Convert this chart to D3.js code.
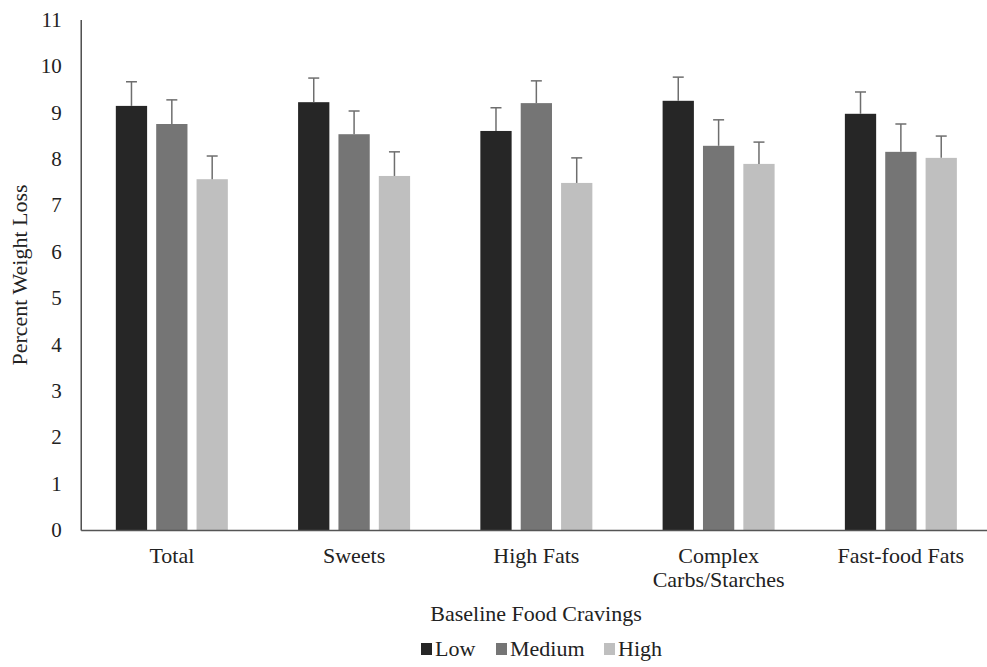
<!DOCTYPE html>
<html><head><meta charset="utf-8">
<script src="https://cdn.jsdelivr.net/npm/d3@7"></script>
<style>body{margin:0;background:#fff}svg{display:block}text{font-family:"Liberation Serif","Times New Roman",serif;fill:#222}</style>
</head><body><svg id="c" width="987" height="667"></svg>
<script>
const categories = ["Total", "Sweets", "High Fats", "Complex\nCarbs/Starches", "Fast-food Fats"];
const seriesNames = ["Low", "Medium", "High"];
const lowValues = [9.14, 9.22, 8.60, 9.25, 8.97];
const mediumValues = [8.75, 8.53, 9.20, 8.28, 8.15];
const highValues = [7.56, 7.63, 7.48, 7.89, 8.02];
const lowErr = [0.52, 0.52, 0.50, 0.51, 0.47];
const mediumErr = [0.52, 0.50, 0.48, 0.56, 0.60];
const highErr = [0.50, 0.52, 0.54, 0.47, 0.47];
const yTicks = [0,1,2,3,4,5,6,7,8,9,10,11];
const colors = ["#262626", "#757575", "#bfbfbf"];

const FONT = '"Liberation Serif","Times New Roman",serif';
const values = [lowValues, mediumValues, highValues];
const errs = [lowErr, mediumErr, highErr];
const svg = d3.select("#c");
const x0 = d3.scaleBand().domain(categories).range([80.7, 992]).paddingInner(0).paddingOuter(0);
const y = d3.scaleLinear().domain([0, 11]).range([530, 19.6]);
const groupW = 112;
const x1 = d3.scaleBand().domain(seriesNames).range([0, groupW]).paddingInner(0.225).paddingOuter(0);

// y axis
const yAxis = svg.append("g").attr("transform", "translate(80.7,0)")
  .call(d3.axisLeft(y).tickValues(yTicks).tickSize(0).tickPadding(19));
yAxis.select(".domain").attr("stroke", "#333").attr("stroke-width", 1.3);
yAxis.selectAll("text").style("font-size", "21px").style("font-family", FONT).attr("fill", "#222");

// bars
const data = [];
categories.forEach((c, i) => seriesNames.forEach((s, j) => data.push({c, s, j, v: values[j][i], e: errs[j][i]})));
const g = svg.append("g");
g.selectAll("rect").data(data).join("rect")
  .attr("x", d => x0(d.c) + (x0.bandwidth() - groupW) / 2 + x1(d.s))
  .attr("width", x1.bandwidth())
  .attr("y", d => y(d.v))
  .attr("height", d => y(0) - y(d.v))
  .attr("fill", d => colors[d.j]);

// error bars
const cx = d => x0(d.c) + (x0.bandwidth() - groupW) / 2 + x1(d.s) + x1.bandwidth() / 2;
g.selectAll("line.err").data(data).join("line").attr("class", "err")
  .attr("x1", cx).attr("x2", cx)
  .attr("y1", d => y(d.v)).attr("y2", d => y(d.v + d.e))
  .attr("stroke", "#6e6e6e").attr("stroke-width", 1.5);
g.selectAll("line.cap").data(data).join("line").attr("class", "cap")
  .attr("x1", d => cx(d) - 5.5).attr("x2", d => cx(d) + 5.5)
  .attr("y1", d => y(d.v + d.e)).attr("y2", d => y(d.v + d.e))
  .attr("stroke", "#6e6e6e").attr("stroke-width", 1.5);

// x axis
const xAxis = svg.append("g").attr("transform", "translate(0,530)")
  .call(d3.axisBottom(x0).tickSize(0).tickFormat(""));
xAxis.select(".domain").attr("stroke", "#555").attr("stroke-width", 1.5);
xAxis.selectAll(".tick").each(function(d) {
  const t = d3.select(this).append("text").attr("text-anchor", "middle")
    .style("font-size", "22px").style("font-family", FONT).attr("fill", "#222");
  d.split("\n").forEach((line, k) => t.append("tspan").attr("x", 0).attr("y", 33 + k * 24).text(line));
});

// axis titles
svg.append("text").attr("transform", "translate(27,275) rotate(-90)").attr("text-anchor", "middle")
  .style("font-size", "22px").text("Percent Weight Loss");
svg.append("text").attr("x", 536).attr("y", 621).attr("text-anchor", "middle")
  .style("font-size", "22px").text("Baseline Food Cravings");

// legend
const legendX = [421, 496, 604];
const lg = svg.append("g");
seriesNames.forEach((s, j) => {
  lg.append("rect").attr("x", legendX[j]).attr("y", 643).attr("width", 11).attr("height", 12).attr("fill", colors[j]);
  lg.append("text").attr("x", legendX[j] + 14).attr("y", 656).style("font-size", "22px").text(s);
});
</script></body></html>
